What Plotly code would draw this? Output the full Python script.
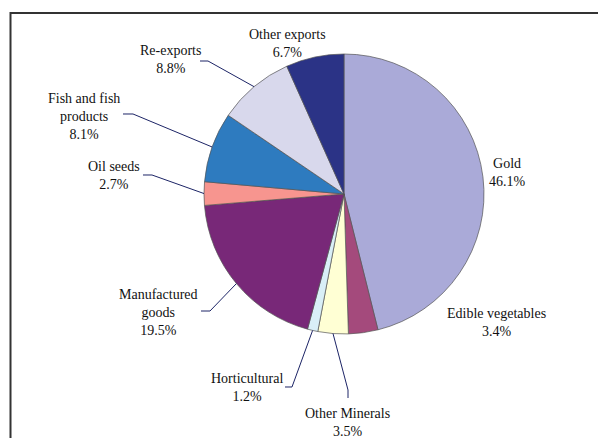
import math
import plotly.graph_objects as go

# Export composition (share of total, %)
categories = ["Gold", "Edible vegetables", "Other Minerals", "Horticultural",
              "Manufactured goods", "Oil seeds", "Fish and fish products",
              "Re-exports", "Other exports"]
shares = [46.1, 3.4, 3.5, 1.2, 19.5, 2.7, 8.1, 8.8, 6.7]
label_text = ["Gold", "Edible vegetables", "Other Minerals", "Horticultural",
              "Manufactured<br>goods", "Oil seeds", "Fish and fish<br>products",
              "Re-exports", "Other exports"]
colors = ["#aaaad8", "#a44a7c", "#ffffd4", "#d9eff7", "#782878",
          "#f7958f", "#2e7bbf", "#d8d8ec", "#2b3386"]

W, H = 598, 438
CX, CY, R = 344, 194, 140  # pie centre and radius in pixels


def px(x, y):
    return x / W, 1 - y / H


# label block centres (pixels) and optional leader path points near the label
label_pos = {
    "Gold": (507, 173),
    "Edible vegetables": (496, 322),
    "Other Minerals": (348, 422),
    "Horticultural": (247, 387),
    "Manufactured goods": (158, 312),
    "Oil seeds": (114, 175),
    "Fish and fish products": (84, 116),
    "Re-exports": (170, 59),
    "Other exports": (287, 43),
}
leader_start = {
    "Other Minerals": [(348, 398), (348, 390)],
    "Horticultural": [(285, 387), (292, 387)],
    "Manufactured goods": [(201, 311), (210, 311)],
    "Oil seeds": [(143, 175), (152, 175)],
    "Fish and fish products": [(123, 114), (133, 114)],
    "Re-exports": [(200, 61), (208, 61)],
}

x0, y1 = px(CX - R, CY - R)
x1, y0 = px(CX + R, CY + R)

fig = go.Figure(go.Pie(
    labels=categories, values=shares, sort=False, direction="clockwise",
    rotation=0, textinfo="none", hoverinfo="label+percent",
    marker=dict(colors=colors, line=dict(color="#555555", width=0.7)),
    domain=dict(x=[x0, x1], y=[y0, y1]), showlegend=False,
))

total = sum(shares)
cum = 0.0
annotations = []
shapes = []
for cat, txt, v in zip(categories, label_text, shares):
    mid = (cum + v / 2) / total * 2 * math.pi
    cum += v
    lx, ly = label_pos[cat]
    annotations.append(dict(
        x=lx / W, y=1 - ly / H, xref="paper", yref="paper",
        text=f"{txt}<br>{v:.1f}%", showarrow=False,
        xanchor="center", yanchor="middle", align="center",
        font=dict(family="Liberation Serif", size=14, color="#111111"),
    ))
    if cat in leader_start:
        ex = CX + R * math.sin(mid)
        ey = CY - R * math.cos(mid)
        pts = leader_start[cat] + [(ex, ey)]
        path = "M " + " L ".join(f"{px(a, b)[0]:.5f},{px(a, b)[1]:.5f}" for a, b in pts)
        shapes.append(dict(type="path", path=path, xref="paper", yref="paper",
                           line=dict(color="#1c2466", width=1)))

# frame around the chart
shapes.append(dict(type="rect", xref="paper", yref="paper",
                   x0=10.5 / W, y0=-0.1, x1=1.1, y1=1 - 13 / H,
                   line=dict(color="#333333", width=2)))

fig.update_layout(
    width=W, height=H, margin=dict(l=0, r=0, t=0, b=0),
    paper_bgcolor="white", plot_bgcolor="white",
    annotations=annotations, shapes=shapes,
)

fig.write_html("out.html")
